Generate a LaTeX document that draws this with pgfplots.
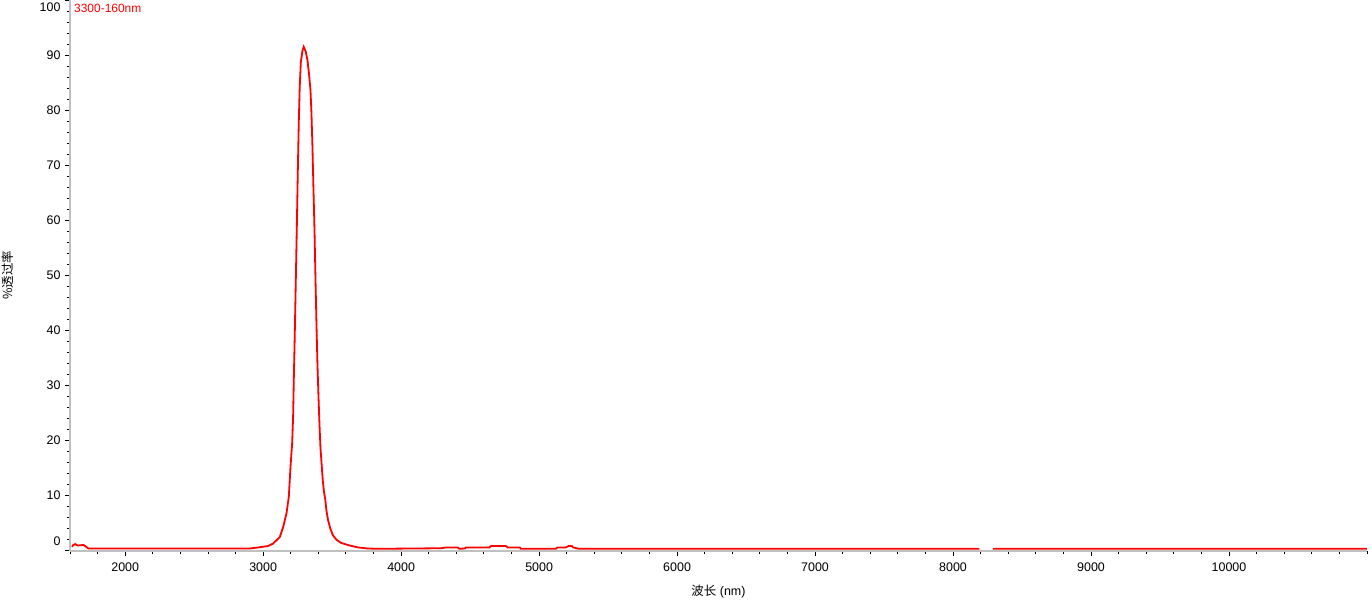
\documentclass[border=0pt]{standalone}
\usepackage{pgfplots}
\pgfplotsset{compat=1.18}
\usepackage{fontspec}
\setmainfont{Liberation Sans}
\newfontfamily\cjk{Noto Sans CJK SC}
\definecolor{axgray}{RGB}{192,192,192}
\begin{document}
\begin{tikzpicture}
\begin{axis}[
  scale only axis,
  width=1297bp, height=551bp,
  xmin=1600, xmax=11000,
  ymin=-0.15, ymax=100,
  axis lines*=left,
  axis line style={axgray, line width=2.4bp, -},
  xtick={2000,3000,...,10000},
  minor xtick={1600,1800,...,11000},
  scaled x ticks=false,
  scaled y ticks=false,
  ytick={0,10,...,100},
  minor ytick={0,2,...,100},
  yticklabels={\raisebox{4.5bp}[0pt][0pt]{0},10,20,30,40,50,60,70,80,90,\raisebox{-11.5bp}[0pt][0pt]{100}},
  tick align=outside,
  major tick length=5bp,
  minor tick length=2.5bp,
  tick style={black, line width=0.9bp},
  /pgf/number format/assume math mode=true,
  /pgf/number format/1000 sep={},
  tick label style={font=\fontsize{12.5}{15}\selectfont},
  y tick label style={anchor=east, xshift=-1bp},
  x tick label style={anchor=north, yshift=-3.5bp},
  xlabel={{\cjk 波长} (nm)},
  ylabel={{\cjk \%透过率}},
  label style={font=\fontsize{12.5}{15}\selectfont},
  xlabel style={at={(axis description cs:0.5,0)}, anchor=center, yshift=-41bp},
  ylabel style={at={(axis description cs:-0.0482,0.5)}, anchor=center},
  unbounded coords=jump,
  clip=false,
]
\addplot[red, line width=1.8bp] coordinates {
(1615,0.6) (1622,0.9) (1638,1.1) (1655,0.85) (1698,0.95) (1718,0.6) (1735,0.3) (1760,0.3)
(2900,0.3) (2950,0.45) (3036,0.75) (3072,1.2) (3121,2.4) (3145,4.2) (3169,6.7) (3186,9.7)
(3198,15.1) (3210,19.4) (3217,24.2) (3222,30.9) (3229,39.1) (3236,48.2) (3244,58.8) (3251,68.6)
(3258,77.6) (3265,84.2) (3273,88.7) (3285,90.8) (3294,91.5) (3309,90.6) (3321,89.1) (3333,86.4)
(3343,83.6) (3350,79.5) (3357,73.5) (3364,66.2) (3372,58.2) (3379,49.6) (3386,41.5) (3393,34.2)
(3401,27.9) (3408,23.0) (3415,18.8) (3424,15.5) (3432,12.7) (3441,10.6) (3451,9.1) (3458,7.3)
(3470,5.5) (3487,3.9) (3506,2.7) (3531,1.9) (3567,1.3) (3627,0.85) (3687,0.5) (3760,0.3)
(3844,0.25) (4290,0.35) (4326,0.5) (4410,0.5) (4422,0.25) (4460,0.3) (4470,0.5) (4639,0.5)
(4651,0.75) (4760,0.75) (4772,0.5) (4860,0.5) (4868,0.25) (5121,0.25) (5133,0.5) (5193,0.5)
(5213,0.75) (5237,0.75) (5246,0.5) (5290,0.25) (8190,0.25) (8240,nan) (8290,0.25) (11000,0.25)
};
\node[anchor=north west, inner sep=0pt, text=red, font=\fontsize{12}{14}\selectfont]
  at (rel axis cs:0,1) [xshift=4bp, yshift=-4bp] {3300-160nm};
\coordinate (BL) at (rel axis cs:0,0);
\end{axis}
\pgfresetboundingbox
\path[use as bounding box] (BL) ++(-70bp,-51bp) rectangle ++(1372bp,602bp);
\end{tikzpicture}
\end{document}
